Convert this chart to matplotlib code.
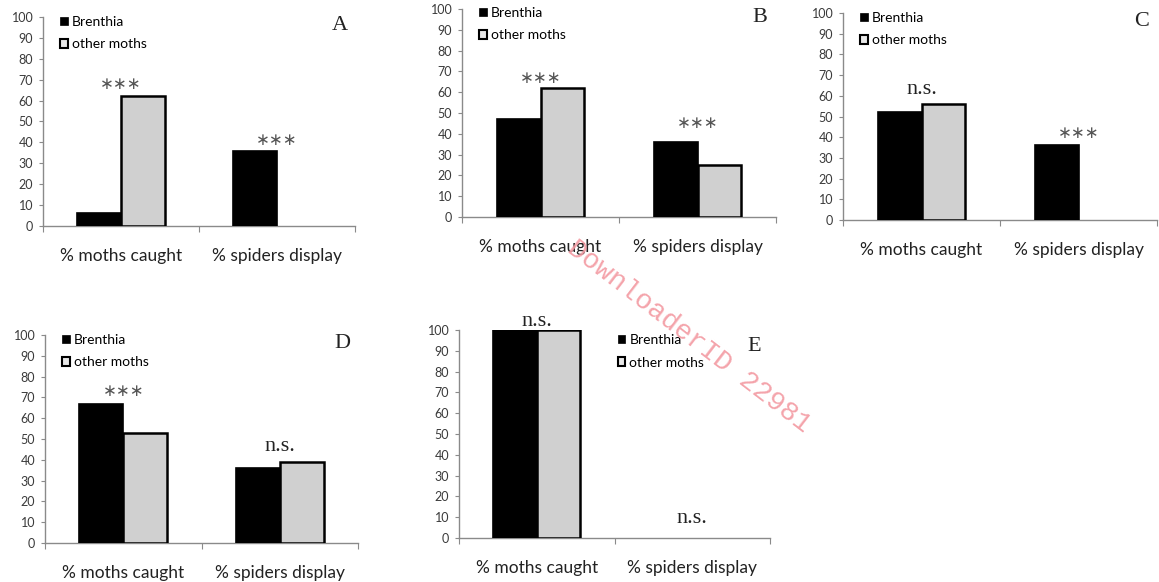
import matplotlib
matplotlib.use("Agg")
import matplotlib.pyplot as plt
from matplotlib.patches import Patch
import numpy as np

# ---- data ----
categories = ["% moths caught", "% spiders display"]
series_names = ["Brenthia", "other moths"]
panel_letters = ["A", "B", "C", "D", "E"]
brenthia_vals = [[6, 36], [47, 36], [52, 36], [67, 36], [100, None]]
other_vals = [[62, None], [62, 25], [56, None], [53, 39], [100, None]]
sig_labels = [["***", "***"], ["***", "***"], ["n.s.", "***"], ["***", "n.s."], ["n.s.", "n.s."]]
sig_heights = [[68, 41], [67, 45], [61, 42], [73, 44], [102, 7]]
yticks = list(range(0, 101, 10))

# ---- layout (pixels: left, right, top, bottom) ----
W, H = 1159, 582
boxes = [(43, 355, 17, 226), (462, 776, 9, 217), (843, 1157, 13, 220),
         (45, 358, 335, 543), (459, 770, 330, 538)]
legend_anchor = [(0.055, 1.005), (0.055, 1.01), (0.055, 1.005), (0.055, 1.005), (0.51, 0.98)]

fig = plt.figure(figsize=(W / 100, H / 100), dpi=100)
sans = "Lato"
grey = "#d0d0d0"
axcol = "#8a8a8a"
bw = 0.28

for i in range(5):
    l, r, t, b = boxes[i]
    ax = fig.add_axes([l / W, 1 - b / H, (r - l) / W, (b - t) / H])
    centers = np.array([0.5, 1.5])
    for j in range(2):
        if brenthia_vals[i][j] is not None:
            ax.bar(centers[j] - bw / 2, brenthia_vals[i][j], width=bw, color="black",
                   edgecolor="black", linewidth=1.2, zorder=3)
        if other_vals[i][j] is not None:
            ax.bar(centers[j] + bw / 2, other_vals[i][j], width=bw, color=grey,
                   edgecolor="black", linewidth=1.8, zorder=3)
        s = sig_labels[i][j]
        if s == "***":
            ax.text(centers[j], sig_heights[i][j], "\u2217\u2217\u2217", ha="center", va="center",
                    fontsize=12, family="DejaVu Sans", color="#555555")
        else:
            ax.text(centers[j], sig_heights[i][j], s, ha="center", va="baseline",
                    fontsize=16, family="Liberation Serif", color="#222222")
    ax.set_xlim(0, 2)
    ax.set_ylim(0, 100)
    ax.set_yticks(yticks)
    ax.set_yticklabels([str(v) for v in yticks], fontsize=9, family=sans, color="#3a3a3a")
    ax.set_xticks([0, 1, 2])
    ax.set_xticklabels(["", "", ""])
    ax.set_xticks(centers, minor=True)
    ax.set_xticklabels(categories, minor=True, fontsize=12.5, family=sans, color="#222222")
    ax.tick_params(axis="x", which="minor", length=0, pad=16)
    ax.tick_params(axis="x", which="major", length=4, color=axcol, direction="out")
    ax.tick_params(axis="y", length=3, color=axcol, direction="out", pad=4)
    for sp in ["top", "right"]:
        ax.spines[sp].set_visible(False)
    for sp in ["left", "bottom"]:
        ax.spines[sp].set_color(axcol)
        ax.spines[sp].set_linewidth(1.0)
    ax.text(0.95, 0.96 if i != 4 else 0.92, panel_letters[i], transform=ax.transAxes,
            ha="center", va="center", fontsize=16, family="Liberation Serif", color="#222222")
    handles = [Patch(facecolor="black", edgecolor="black", linewidth=0.5),
               Patch(facecolor="#e8e8e8", edgecolor="black", linewidth=1.5)]
    ax.legend(handles, series_names, loc="upper left", bbox_to_anchor=legend_anchor[i],
              frameon=False, prop={"family": sans, "size": 10},
              handlelength=0.55, handleheight=0.55, handletextpad=0.3,
              labelspacing=0.75, borderpad=0, borderaxespad=0)

fig.text(570 / W, 1 - 245 / H, "DownloaderID 22981", rotation=-37.5, rotation_mode="anchor",
         ha="left", va="center", fontsize=20, family="Liberation Mono", color="#f39aa2",
         alpha=0.9, zorder=10)

fig.savefig("out.png", dpi=100, facecolor="white")
